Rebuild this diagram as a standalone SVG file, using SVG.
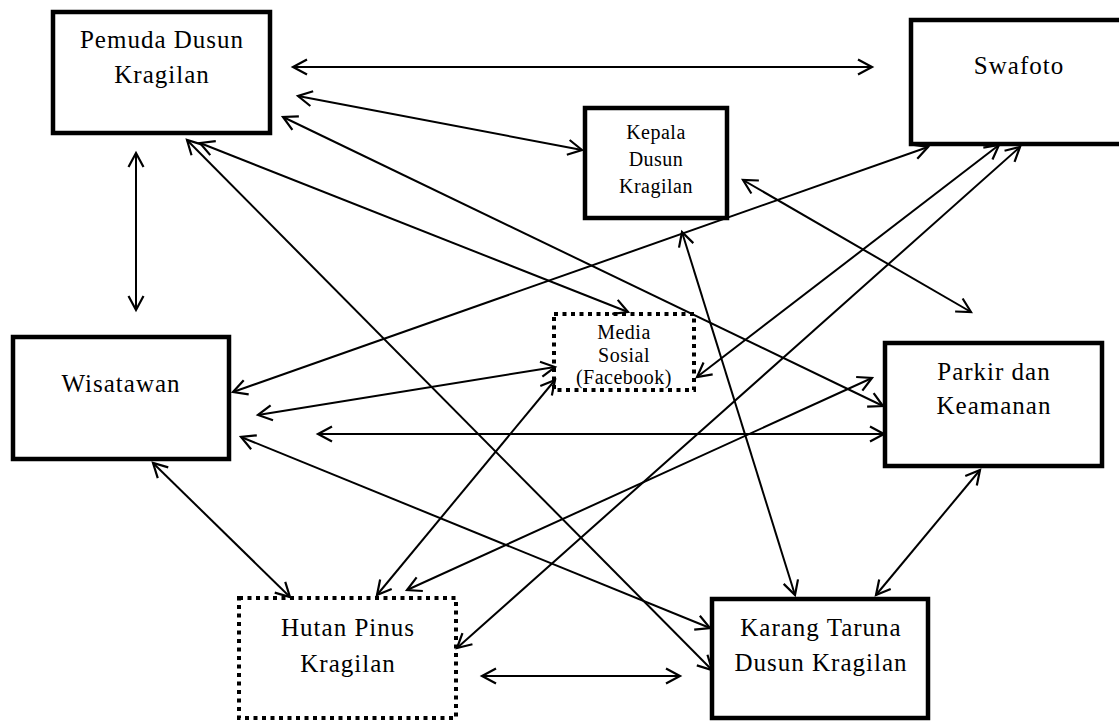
<svg xmlns="http://www.w3.org/2000/svg" width="1119" height="722" viewBox="0 0 1119 722">
<style>
.box{fill:#fff;stroke:#000;stroke-width:4.5}
.dot{fill:#fff;stroke:#000;stroke-width:4;stroke-dasharray:4 4.5}
.t{font-family:"Liberation Serif","Times New Roman",serif;font-size:25px;letter-spacing:1px;text-anchor:middle;fill:#000}
.s{font-family:"Liberation Serif","Times New Roman",serif;font-size:20px;letter-spacing:0.5px;text-anchor:middle;fill:#000}
.c line{stroke:#000;stroke-width:2;marker-start:url(#ah);marker-end:url(#ah)}
</style>
<defs>
<marker id="ah" markerUnits="userSpaceOnUse" markerWidth="24" markerHeight="24" viewBox="-18 -12 24 24" refX="0" refY="0" orient="auto-start-reverse">
<path d="M-14,-7.5 L0,0 L-14,7.5" fill="none" stroke="#000" stroke-width="2.2"/>
</marker>
</defs>
<rect width="1119" height="722" fill="#fff"/>
<g id="pemuda"><rect class="box" x="53" y="12" width="217" height="121"/><text class="t" x="162" y="48">Pemuda Dusun</text><text class="t" x="162" y="83">Kragilan</text></g>
<g id="swafoto"><rect class="box" x="911" y="20" width="260" height="124"/><text class="t" x="1019" y="74">Swafoto</text></g>
<g id="kepala"><rect class="box" x="585" y="108" width="142" height="110"/><text class="s" x="656" y="139">Kepala</text><text class="s" x="656" y="166">Dusun</text><text class="s" x="656" y="193">Kragilan</text></g>
<g id="media"><rect class="dot" x="554" y="314" width="140" height="76"/><text class="s" x="624" y="339">Media</text><text class="s" x="624" y="362">Sosial</text><text class="s" x="624" y="384">(Facebook)</text></g>
<g id="wisatawan"><rect class="box" x="13" y="337" width="216" height="122"/><text class="t" x="121" y="392">Wisatawan</text></g>
<g id="parkir"><rect class="box" x="885" y="343" width="217" height="123"/><text class="t" x="994" y="380">Parkir dan</text><text class="t" x="994" y="414">Keamanan</text></g>
<g id="hutan"><rect class="dot" x="239" y="598" width="217" height="120"/><text class="t" x="348" y="636">Hutan Pinus</text><text class="t" x="348" y="672">Kragilan</text></g>
<g id="karang"><rect class="box" x="712" y="599" width="216" height="119"/><text class="t" x="821" y="636">Karang Taruna</text><text class="t" x="821" y="671">Dusun Kragilan</text></g>
<g id="connectors" class="c">
<line x1="293" y1="67" x2="872" y2="67"/>
<line x1="298" y1="96" x2="582" y2="150"/>
<line x1="283" y1="117" x2="883" y2="406"/>
<line x1="200" y1="143" x2="628" y2="312"/>
<line x1="187" y1="140" x2="712" y2="670"/>
<line x1="136" y1="153" x2="136" y2="310"/>
<line x1="233" y1="392" x2="928" y2="147"/>
<line x1="258" y1="415" x2="555" y2="367"/>
<line x1="318" y1="434" x2="884" y2="434"/>
<line x1="241" y1="437" x2="710" y2="628"/>
<line x1="153" y1="463" x2="290" y2="597"/>
<line x1="457" y1="648" x2="1020" y2="147"/>
<line x1="697" y1="377" x2="999" y2="145"/>
<line x1="682" y1="232" x2="795" y2="595"/>
<line x1="743" y1="180" x2="971" y2="312"/>
<line x1="377" y1="595" x2="555" y2="380"/>
<line x1="407" y1="590" x2="872" y2="378"/>
<line x1="482" y1="676" x2="680" y2="676"/>
<line x1="980" y1="470" x2="876" y2="595"/>
</g>
</svg>
